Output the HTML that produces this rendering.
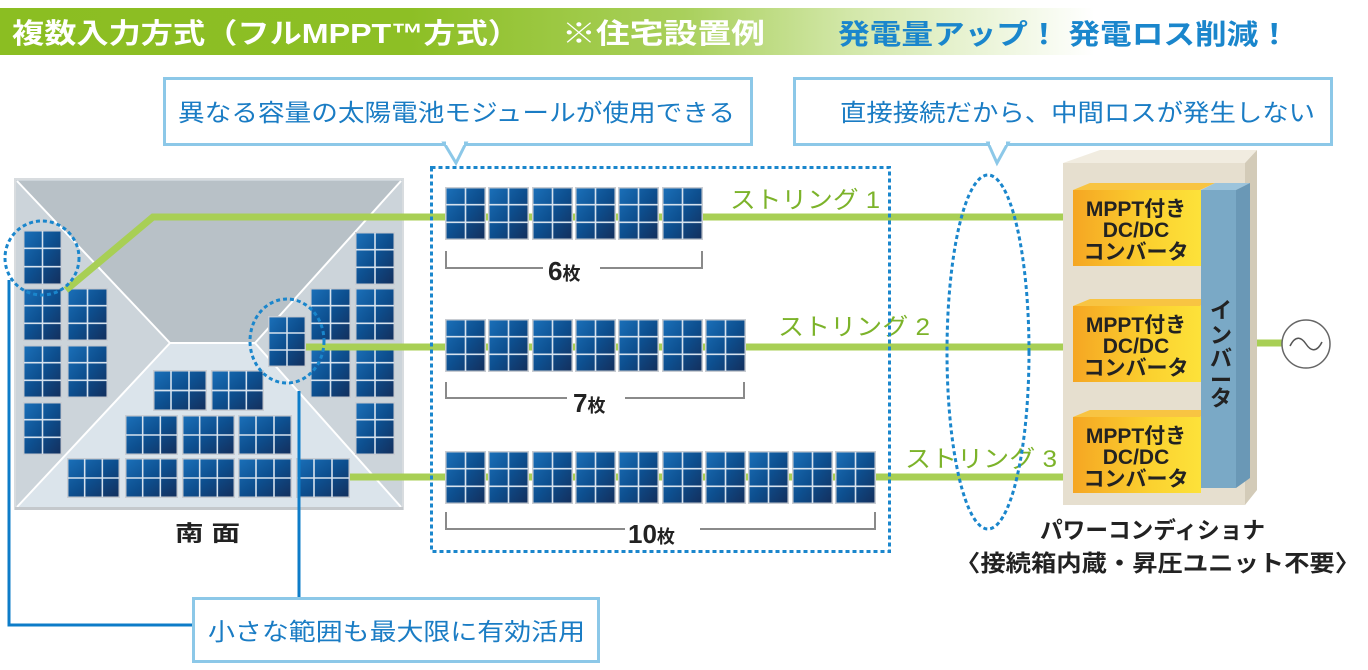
<!DOCTYPE html>
<html><head><meta charset="utf-8"><style>
html,body{margin:0;padding:0;background:#fff;}
svg{display:block;}
text{font-family:"Liberation Sans","Noto Sans CJK JP",sans-serif;}
</style></head><body>
<svg width="1368" height="670" viewBox="0 0 1368 670" xmlns="http://www.w3.org/2000/svg">
<defs>
<linearGradient id="hdr" x1="0" x2="1" y1="0" y2="0">
<stop offset="0" stop-color="#8bbe22"/><stop offset="0.3" stop-color="#8dbf25"/>
<stop offset="0.5" stop-color="#a9d05c"/><stop offset="0.62" stop-color="#d2e7a8"/>
<stop offset="0.8" stop-color="#ffffff"/><stop offset="1" stop-color="#ffffff"/>
</linearGradient>
<linearGradient id="cell" x1="0" y1="0" x2="1" y2="1">
<stop offset="0" stop-color="#1a6fb8"/><stop offset="0.5" stop-color="#0d4f8f"/><stop offset="1" stop-color="#13305e"/>
</linearGradient>
<linearGradient id="conv" x1="0" y1="0" x2="1" y2="0">
<stop offset="0" stop-color="#f5a623"/><stop offset="0.6" stop-color="#fbd12f"/><stop offset="1" stop-color="#fde23a"/>
</linearGradient>
<symbol id="mp" viewBox="0 0 40 54" preserveAspectRatio="none">
<rect x="0" y="0" width="40" height="54" fill="#c8ccd2"/>
<rect x="1.5" y="1.5" width="37" height="51" fill="url(#cell)"/>
<line x1="20" y1="1" x2="20" y2="53" stroke="#d6e2ee" stroke-width="1.6"/>
<line x1="1" y1="18" x2="39" y2="18" stroke="#d6e2ee" stroke-width="1.6"/>
<line x1="1" y1="36" x2="39" y2="36" stroke="#d6e2ee" stroke-width="1.6"/>
</symbol>
<symbol id="ml" viewBox="0 0 54 40" preserveAspectRatio="none">
<rect x="0" y="0" width="54" height="40" fill="#c8ccd2"/>
<rect x="1.5" y="1.5" width="51" height="37" fill="url(#cell)"/>
<line x1="18" y1="1" x2="18" y2="39" stroke="#d6e2ee" stroke-width="1.6"/>
<line x1="36" y1="1" x2="36" y2="39" stroke="#d6e2ee" stroke-width="1.6"/>
<line x1="1" y1="20" x2="53" y2="20" stroke="#d6e2ee" stroke-width="1.6"/>
</symbol>
</defs>

<!-- header -->
<rect x="0" y="8" width="1368" height="47" fill="url(#hdr)"/>
<text x="12" y="43" font-size="28" font-weight="bold" fill="#fff" textLength="508" lengthAdjust="spacingAndGlyphs">複数入力方式（フルMPPT™方式）</text>
<text x="562" y="43" font-size="28" font-weight="bold" fill="#fff" textLength="203" lengthAdjust="spacingAndGlyphs">※住宅設置例</text>
<text x="838" y="44" font-size="28" font-weight="bold" fill="#1a86cc" textLength="452" lengthAdjust="spacingAndGlyphs">発電量アップ！ 発電ロス削減！</text>

<!-- callouts -->
<rect x="164.5" y="78.5" width="587" height="66" fill="#fff" stroke="#8cc8e8" stroke-width="3"/>
<polygon points="444,143 466,143 456,163" fill="#fff" stroke="#8cc8e8" stroke-width="3"/>
<rect x="446" y="140" width="18" height="5" fill="#fff"/>
<text x="178" y="121" font-size="24" fill="#1a7cc4" textLength="557" lengthAdjust="spacingAndGlyphs">異なる容量の太陽電池モジュールが使用できる</text>

<rect x="794.5" y="78.5" width="537" height="66" fill="#fff" stroke="#8cc8e8" stroke-width="3"/>
<polygon points="988,143 1008,143 997,163" fill="#fff" stroke="#8cc8e8" stroke-width="3"/>
<rect x="990" y="140" width="16" height="5" fill="#fff"/>
<text x="840" y="121" font-size="24" fill="#1a7cc4" textLength="475" lengthAdjust="spacingAndGlyphs">直接接続だから、中間ロスが発生しない</text>

<!-- roof -->
<rect x="15" y="179" width="388" height="330" fill="#ccd4da" stroke="#d8dcdf" stroke-width="2"/>
<polygon points="17,181 401,181 255,343 170,343" fill="#b8c1c7"/>
<polygon points="170,343 255,343 401,507 17,507" fill="#dbe4eb"/>
<g stroke="#fff" stroke-width="2" fill="none">
<line x1="17" y1="181" x2="170" y2="343"/><line x1="401" y1="181" x2="255" y2="343"/>
<line x1="170" y1="343" x2="17" y2="507"/><line x1="255" y1="343" x2="401" y2="507"/>
<line x1="170" y1="343" x2="255" y2="343"/>
</g>
<rect x="15" y="507" width="388" height="3" fill="#c4c8cc"/>

<!-- roof modules -->
<g>
<use href="#mp" x="23" y="230" width="39" height="55"/>
<use href="#mp" x="23" y="288" width="39" height="53"/>
<use href="#mp" x="23" y="345" width="39" height="53"/>
<use href="#mp" x="23" y="402" width="39" height="53"/>
<use href="#mp" x="67" y="288" width="41" height="53"/>
<use href="#mp" x="67" y="345" width="41" height="53"/>
<use href="#mp" x="355" y="232" width="40" height="53"/>
<use href="#mp" x="355" y="288" width="40" height="53"/>
<use href="#mp" x="355" y="345" width="40" height="53"/>
<use href="#mp" x="355" y="402" width="40" height="53"/>
<use href="#mp" x="310" y="288" width="41" height="53"/>
<use href="#mp" x="310" y="345" width="41" height="53"/>
<use href="#mp" x="268" y="316" width="38" height="51"/>
<use href="#ml" x="153" y="370" width="54" height="41"/>
<use href="#ml" x="211" y="370" width="53" height="41"/>
<use href="#ml" x="125" y="415" width="53" height="40"/>
<use href="#ml" x="182" y="415" width="53" height="40"/>
<use href="#ml" x="238" y="415" width="54" height="40"/>
<use href="#ml" x="67" y="458" width="53" height="40"/>
<use href="#ml" x="125" y="458" width="53" height="40"/>
<use href="#ml" x="182" y="458" width="53" height="40"/>
<use href="#ml" x="238" y="458" width="54" height="40"/>
<use href="#ml" x="296" y="458" width="54" height="40"/>
</g>

<!-- green string lines -->
<g stroke="#a8cf55" stroke-width="7" fill="none">
<polyline points="66,290 153,217 1075,217"/>
<line x1="306" y1="347" x2="1075" y2="347"/>
<line x1="350" y1="477" x2="1075" y2="477"/>
<line x1="1250" y1="343" x2="1283" y2="343"/>
</g>

<!-- string modules -->
<g>
<use href="#mp" x="445" y="187" width="41" height="53"/>
<use href="#mp" x="488" y="187" width="41" height="53"/>
<use href="#mp" x="532" y="187" width="41" height="53"/>
<use href="#mp" x="575" y="187" width="41" height="53"/>
<use href="#mp" x="618" y="187" width="41" height="53"/>
<use href="#mp" x="662" y="187" width="41" height="53"/>

<use href="#mp" x="445" y="319" width="41" height="53"/>
<use href="#mp" x="488" y="319" width="41" height="53"/>
<use href="#mp" x="532" y="319" width="41" height="53"/>
<use href="#mp" x="575" y="319" width="41" height="53"/>
<use href="#mp" x="618" y="319" width="41" height="53"/>
<use href="#mp" x="662" y="319" width="41" height="53"/>
<use href="#mp" x="705" y="319" width="41" height="53"/>

<use href="#mp" x="445" y="451" width="41" height="53"/>
<use href="#mp" x="488" y="451" width="41" height="53"/>
<use href="#mp" x="532" y="451" width="41" height="53"/>
<use href="#mp" x="575" y="451" width="41" height="53"/>
<use href="#mp" x="618" y="451" width="41" height="53"/>
<use href="#mp" x="662" y="451" width="41" height="53"/>
<use href="#mp" x="705" y="451" width="41" height="53"/>
<use href="#mp" x="748" y="451" width="41" height="53"/>
<use href="#mp" x="792" y="451" width="41" height="53"/>
<use href="#mp" x="835" y="451" width="41" height="53"/>
</g>

<!-- brackets -->
<g stroke="#8a8a8a" stroke-width="2" fill="none">
<polyline points="446,251 446,268 543,268"/><polyline points="600,268 702,268 702,251"/>
<polyline points="446,382 446,398 567,398"/><polyline points="625,398 744,398 744,382"/>
<polyline points="446,512 446,529 625,529"/><polyline points="700,529 875,529 875,512"/>
</g>
<text x="548" y="280" font-size="26" font-weight="bold" fill="#222">6<tspan font-size="18">枚</tspan></text>
<text x="573" y="412" font-size="26" font-weight="bold" fill="#222">7<tspan font-size="18">枚</tspan></text>
<text x="628" y="543" font-size="26" font-weight="bold" fill="#222">10<tspan font-size="18">枚</tspan></text>

<text x="730" y="208" font-size="24" fill="#7cb32a" textLength="150" lengthAdjust="spacingAndGlyphs">ストリング 1</text>
<text x="778" y="335" font-size="24" fill="#7cb32a" textLength="152" lengthAdjust="spacingAndGlyphs">ストリング 2</text>
<text x="905" y="467" font-size="24" fill="#7cb32a" textLength="152" lengthAdjust="spacingAndGlyphs">ストリング 3</text>

<!-- dashed areas -->
<g stroke="#1a86cc" stroke-width="3" fill="none" stroke-dasharray="4 3">
<rect x="431.5" y="167.5" width="458" height="384"/>
<ellipse cx="988" cy="352" rx="41" ry="177"/>
<circle cx="42" cy="258" r="37"/>
<ellipse cx="287" cy="341" rx="37" ry="42"/>
</g>

<!-- blue connectors -->
<g stroke="#0d7cc8" stroke-width="3" fill="none">
<polyline points="9,280 9,625 193,625"/>
<line x1="299" y1="391" x2="299" y2="598"/>
</g>
<rect x="193.5" y="598.5" width="405" height="63" fill="#fff" stroke="#8cc8e8" stroke-width="3"/>
<text x="208" y="640" font-size="24" fill="#1a7cc4" textLength="377" lengthAdjust="spacingAndGlyphs">小さな範囲も最大限に有効活用</text>

<text x="175" y="541" font-size="22" font-weight="bold" fill="#222" textLength="65" lengthAdjust="spacingAndGlyphs">南 面</text>

<!-- power conditioner -->
<polygon points="1063,163 1100,150 1257,150 1245,163" fill="#f1ece0"/>
<polygon points="1245,163 1257,150 1257,490 1245,505" fill="#d3cbb8"/>
<rect x="1063" y="163" width="182" height="342" fill="#e6dfcf"/>
<g>
<polygon points="1073,190 1090,183 1215,183 1200,190" fill="#f8c442"/>
<rect x="1073" y="190" width="128" height="76" fill="url(#conv)"/>
<polygon points="1073,306 1090,299 1215,299 1200,306" fill="#f8c442"/>
<rect x="1073" y="306" width="128" height="76" fill="url(#conv)"/>
<polygon points="1073,417 1090,410 1215,410 1200,417" fill="#f8c442"/>
<rect x="1073" y="417" width="128" height="76" fill="url(#conv)"/>
</g>
<polygon points="1201,190 1215,183 1250,183 1236,190" fill="#9cc4dc"/>
<rect x="1201" y="190" width="35" height="298" fill="#7aa9c6"/>
<polygon points="1236,190 1250,183 1250,478 1236,488" fill="#6a98b6"/>
<g font-size="21" font-weight="bold" fill="#222" text-anchor="middle">
<text x="1136" y="216">MPPT付き</text><text x="1136" y="237">DC/DC</text><text x="1136" y="259">コンバータ</text>
<text x="1136" y="332">MPPT付き</text><text x="1136" y="353">DC/DC</text><text x="1136" y="375">コンバータ</text>
<text x="1136" y="443">MPPT付き</text><text x="1136" y="464">DC/DC</text><text x="1136" y="486">コンバータ</text>
</g>
<g font-size="22" font-weight="bold" fill="#222" text-anchor="middle">
<text x="1221" y="318">イ</text><text x="1221" y="343">ン</text><text x="1221" y="366">バ</text><text x="1221" y="388">ー</text><text x="1221" y="406">タ</text>
</g>
<circle cx="1306" cy="344" r="24" fill="#fff" stroke="#666" stroke-width="1.5"/>
<path d="M1290,346 C1296,334 1302,338 1306,344 C1310,350 1316,354 1322,342" stroke="#555" stroke-width="1.5" fill="none"/>

<text x="1040" y="538" font-size="23" font-weight="bold" fill="#222" textLength="225" lengthAdjust="spacingAndGlyphs">パワーコンディショナ</text>
<text x="955" y="571" font-size="23" font-weight="bold" fill="#222" textLength="405" lengthAdjust="spacingAndGlyphs">〈接続箱内蔵・昇圧ユニット不要〉</text>
</svg>
</body></html>
